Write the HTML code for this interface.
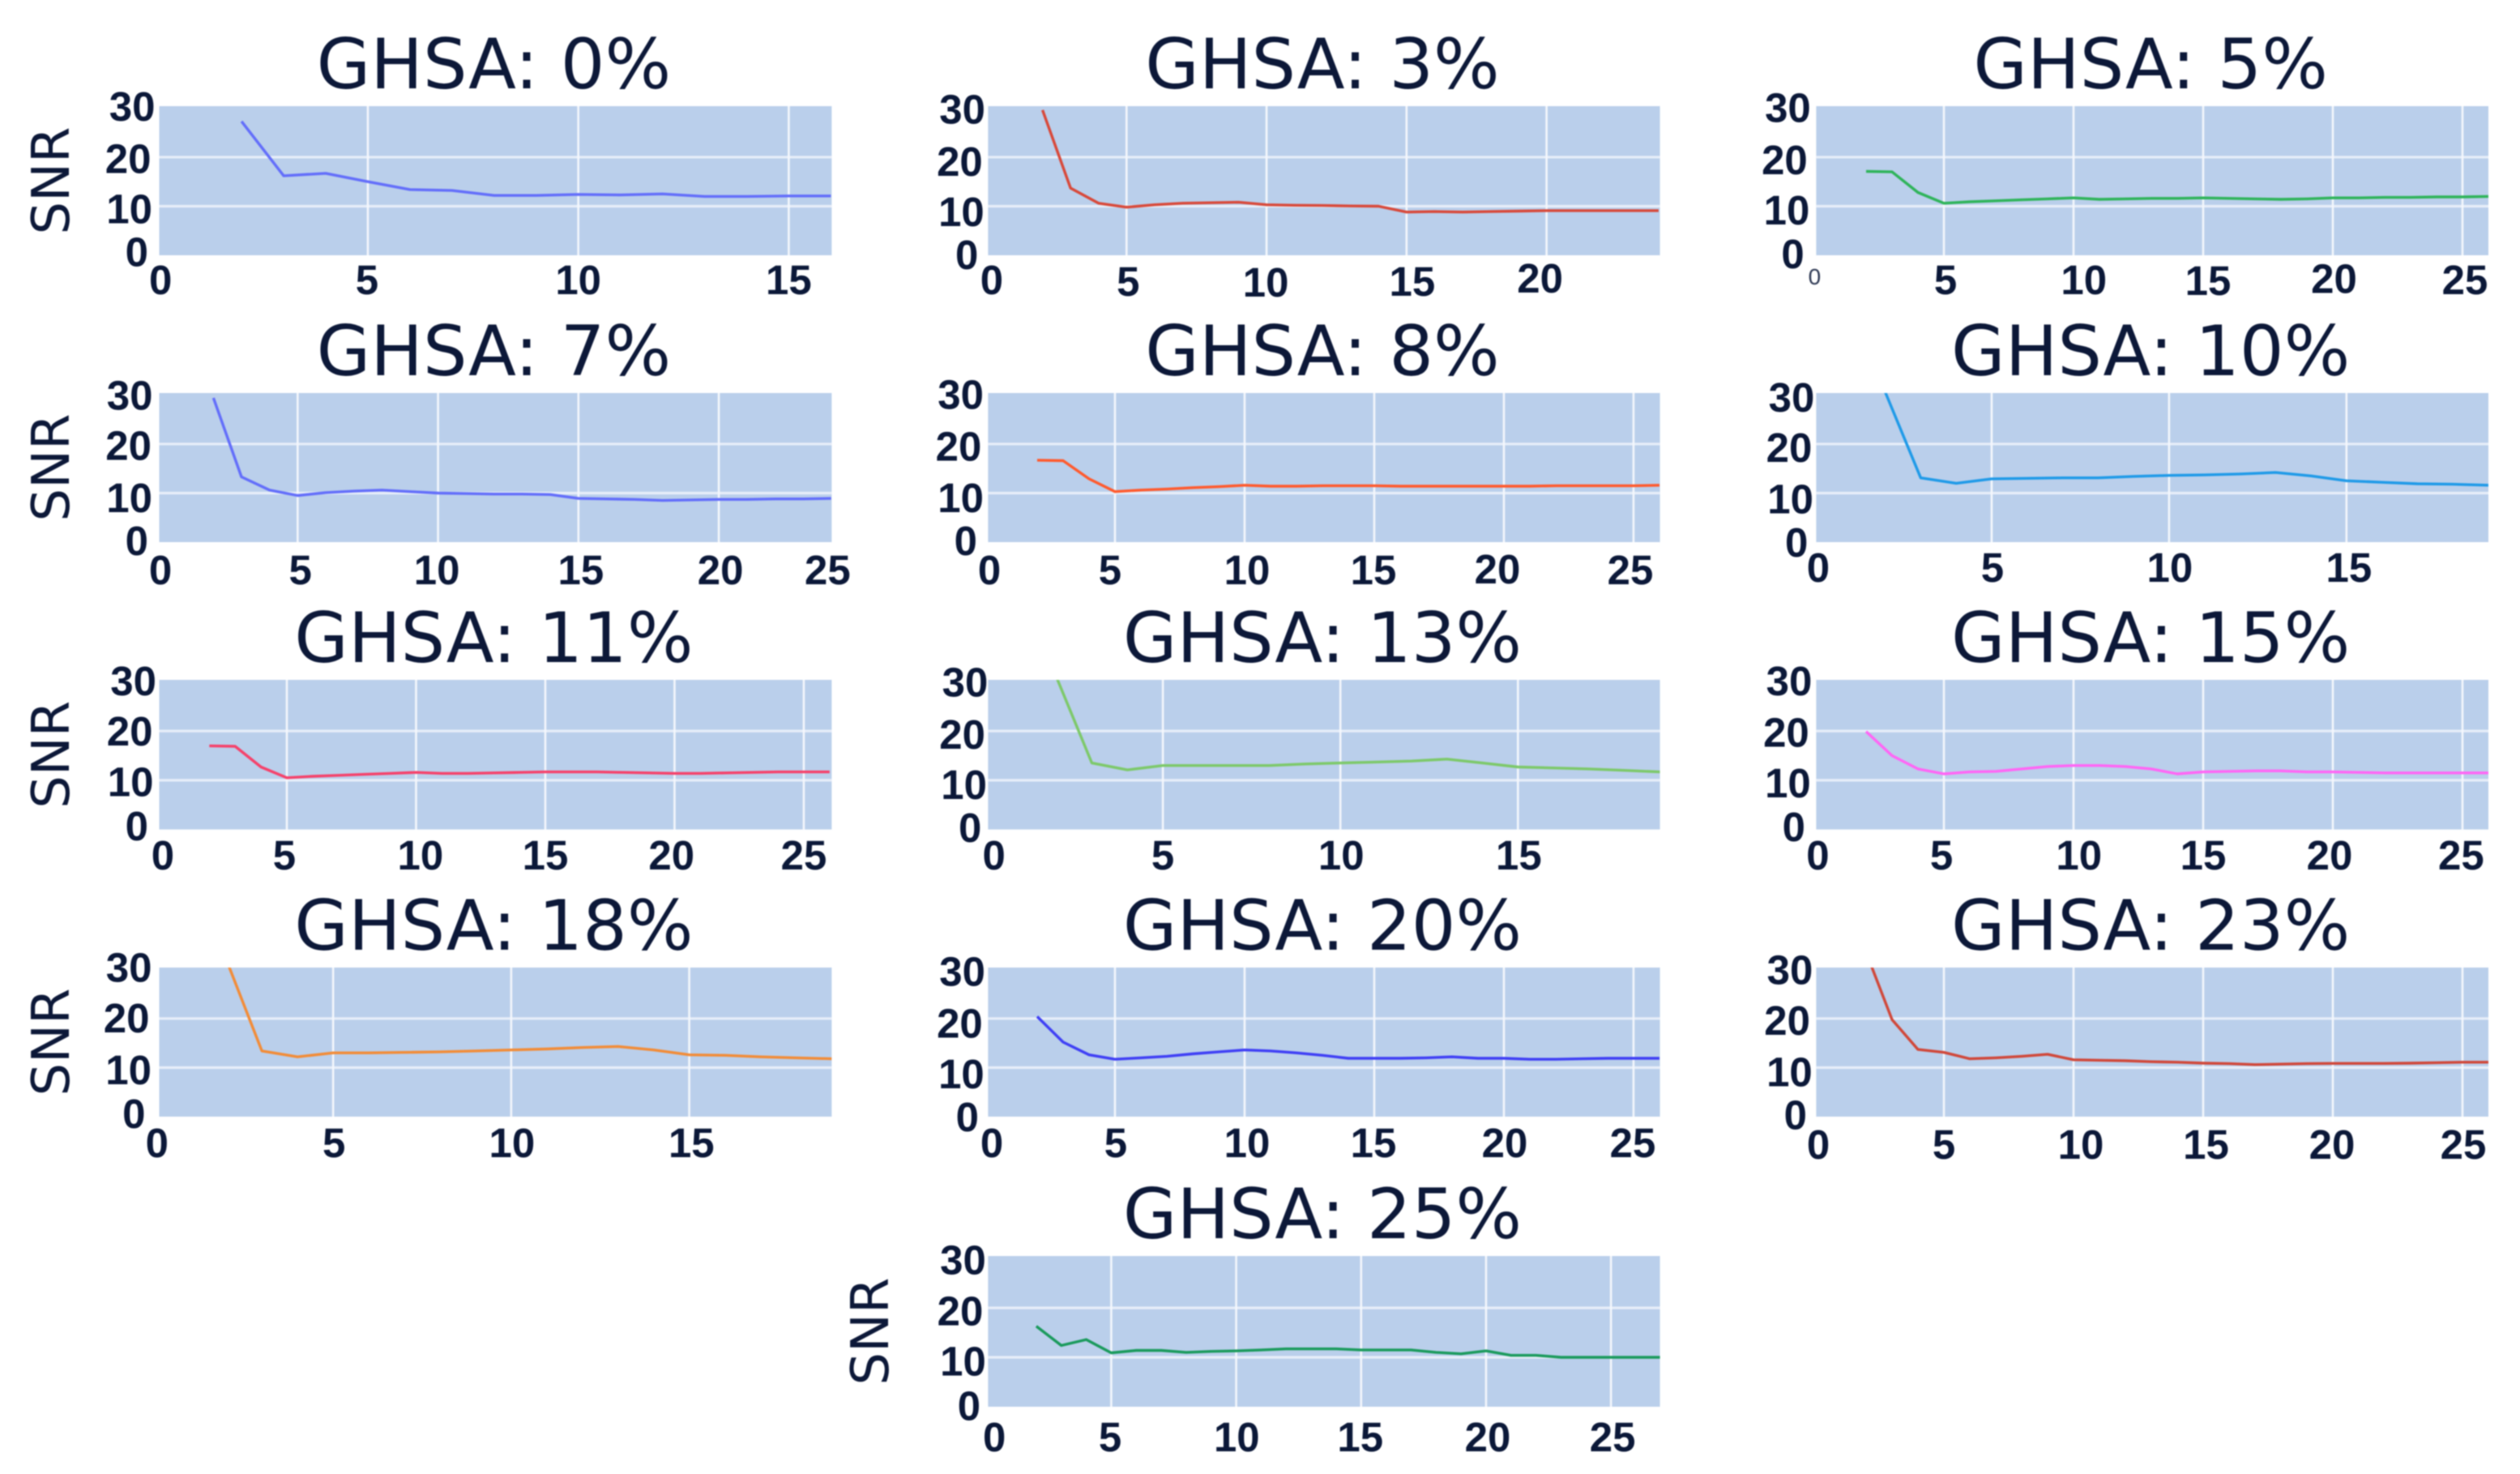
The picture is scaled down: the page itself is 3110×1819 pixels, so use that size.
<!DOCTYPE html>
<html lang="en">
<head>
<meta charset="utf-8">
<title>SNR by GHSA</title>
<style>
  html, body { margin: 0; padding: 0; background: #ffffff; }
  body { width: 3110px; height: 1819px; overflow: hidden; }
  svg { display: block; filter: blur(0.9px); }
  .title { font-family: "DejaVu Sans", sans-serif; font-size: 86px; fill: #0c1838; text-anchor: middle; }
  .axis-title { font-family: "DejaVu Sans", sans-serif; font-size: 64px; fill: #0c1838; text-anchor: middle; }
  .tick { font-family: "Liberation Sans", sans-serif; font-weight: 700; font-size: 51px; fill: #0b1838; }
  .tick-thin { font-family: "Liberation Sans", sans-serif; font-weight: 400; font-size: 28px; fill: #2c3752; }
</style>
</head>
<body>
<svg id="figure" xmlns="http://www.w3.org/2000/svg" width="3110" height="1819" viewBox="0 0 3110 1819"></svg>
<script>
// ---- Data ----
const titles = ["GHSA: 0%", "GHSA: 3%", "GHSA: 5%", "GHSA: 7%", "GHSA: 8%", "GHSA: 10%", "GHSA: 11%", "GHSA: 13%", "GHSA: 15%", "GHSA: 18%", "GHSA: 20%", "GHSA: 23%", "GHSA: 25%"];
const xValues = [2, 3, 4, 5, 6, 7, 8, 9, 10, 11, 12, 13, 14, 15, 16, 17, 18, 19, 20, 21, 22, 23, 24, 25, 26, 27];
const yTickLabels = [0, 10, 20, 30];
const xTicksShort = [0, 5, 10, 15];
const xTicksMid = [0, 5, 10, 15, 20];
const xTicksLong = [0, 5, 10, 15, 20, 25];

const snr0 = [27.3, 16.2, 16.7, 15, 13.4, 13.2, 12.2, 12.2, 12.4, 12.3, 12.5, 12, 12, 12.1, 12.1];
const snr3 = [29.6, 13.7, 10.6, 9.8, 10.3, 10.6, 10.7, 10.8, 10.3, 10.2, 10.15, 10.05, 10, 8.8, 8.9, 8.8, 8.9, 9, 9.1, 9.1, 9.1, 9.1, 9.1];
const snr5 = [17.1, 17, 12.8, 10.6, 10.9, 11.1, 11.3, 11.5, 11.7, 11.4, 11.5, 11.6, 11.6, 11.7, 11.6, 11.5, 11.4, 11.5, 11.7, 11.7, 11.8, 11.8, 11.9, 11.9, 12];
const snr7 = [29.4, 13.3, 10.6, 9.5, 10.1, 10.4, 10.6, 10.3, 10, 9.9, 9.8, 9.8, 9.7, 8.9, 8.8, 8.7, 8.5, 8.6, 8.7, 8.7, 8.8, 8.8, 8.9];
const snr8 = [16.7, 16.6, 12.9, 10.3, 10.6, 10.8, 11.1, 11.3, 11.6, 11.4, 11.4, 11.5, 11.5, 11.5, 11.4, 11.4, 11.4, 11.4, 11.4, 11.4, 11.5, 11.5, 11.5, 11.5, 11.6];
const snr10 = [30.6, 13.1, 12, 12.9, 13, 13.1, 13.1, 13.4, 13.6, 13.7, 13.9, 14.2, 13.5, 12.5, 12.2, 11.9, 11.8, 11.6];
const snr11 = [17, 16.9, 12.7, 10.5, 10.8, 11, 11.2, 11.4, 11.6, 11.4, 11.4, 11.5, 11.6, 11.7, 11.7, 11.7, 11.6, 11.5, 11.4, 11.4, 11.5, 11.6, 11.7, 11.7, 11.7];
const snr13 = [31, 13.5, 12.1, 13, 13, 13, 13, 13.3, 13.5, 13.7, 13.9, 14.3, 13.5, 12.7, 12.5, 12.3, 12, 11.7];
const snr15 = [19.9, 15, 12.3, 11.3, 11.7, 11.8, 12.3, 12.8, 13, 13, 12.8, 12.3, 11.3, 11.7, 11.8, 11.9, 11.9, 11.7, 11.7, 11.6, 11.5, 11.5, 11.5, 11.5, 11.5];
const snr18 = [32, 13.4, 12.2, 13, 13, 13.1, 13.2, 13.4, 13.6, 13.8, 14.1, 14.3, 13.6, 12.6, 12.5, 12.2, 12, 11.8];
const snr20 = [20.4, 15.2, 12.6, 11.7, 12, 12.3, 12.8, 13.2, 13.6, 13.4, 13, 12.5, 11.9, 11.9, 11.9, 12, 12.2, 11.9, 11.9, 11.7, 11.7, 11.8, 11.9, 11.9, 11.9];
const snr23 = [33.5, 19.8, 13.7, 13.1, 11.8, 12, 12.3, 12.7, 11.6, 11.5, 11.4, 11.2, 11.1, 10.9, 10.8, 10.6, 10.7, 10.8, 10.85, 10.85, 10.85, 10.9, 11, 11.1, 11.1];
const snr25 = [16.3, 12.4, 13.6, 10.9, 11.4, 11.4, 11, 11.2, 11.3, 11.5, 11.7, 11.7, 11.7, 11.5, 11.5, 11.5, 11, 10.7, 11.3, 10.4, 10.4, 10, 10, 10, 10, 10];

const seriesList = [snr0, snr3, snr5, snr7, snr8, snr10, snr11, snr13, snr15, snr18, snr20, snr23, snr25];
const xTickSets = [xTicksShort, xTicksMid, xTicksLong, xTicksLong, xTicksLong, xTicksShort, xTicksLong, xTicksShort, xTicksLong, xTicksShort, xTicksLong, xTicksLong, xTicksLong];
const xDomainMin = [0.044, 0.055, 0.075, 0.07, 0.106, 0.055, 0.063, 0.077, 0.075, 0.116, 0.106, 0.075, 0.07];
const xDomainMax = [16.02, 24.05, 26, 24.02, 26.02, 19, 26.08, 19, 26, 19, 26.02, 26, 26.96];
const yDomainMax = [30.4, 30.4, 30.4, 30.4, 30.4, 30.4, 30.4, 30.4, 30.4, 30.4, 30.4, 30.4, 30.5];

// ---- Styling and layout (not data) ----
const lineColors = ["#636efa", "#d8493a", "#2fb45a", "#636efa", "#ff5a2d", "#1f9ae8", "#f5426b", "#7dc96a", "#ff66f5", "#f28c38", "#3f3ff5", "#d0483a", "#1a9a5c"];
const panelCol = [0, 1, 2, 0, 1, 2, 0, 1, 2, 0, 1, 2, 1];
const panelRow = [0, 0, 0, 1, 1, 1, 2, 2, 2, 3, 3, 3, 4];
const colLeft = [196.5, 1219.4, 2241.4];
const colRight = [1026.4, 2048.6, 3071];
const rowTop = [131, 485, 839, 1194, 1550];
const rowBottom = [315, 669, 1023.6, 1378, 1736];
const snrCenterX = [62, 62, 62, 62, 1073];
const hasSnrTitle = [1, 0, 0, 1, 0, 0, 1, 0, 0, 1, 0, 0, 1];

// The tick labels in the figure sit slightly off their ticks; these are those offsets in px.
const xLabelNudgeX = [
  [4, -1, 0, 0], [6.5, 2, -1, 7, -8], [0.4, 2, 12.7, 6, 1.5, 3],
  [4, 3.4, -1.5, 3, 2, -39], [5, -6, 3, -1, -8, -4], [5, 1, 1, 3],
  [6.5, -3, 5.4, 0, -3.7, 0], [10.7, 0, 1, 1], [4.4, -3, 6.7, 0, -4, -1.6],
  [2.4, 1, 1, 2.7], [8, 1, 3, -1, 1, -1], [5, 0, 9, 3.5, -1, 1],
  [10, -1.4, 0.7, -1, 2, 2]
];
const xLabelNudgeY = [
  [0, 0, 0, 0], [0, 2, 3, 2, -2], [-4, 0, 0, 1, -1.5, 0],
  [4, 4, 4, 4, 4, 4], [4, 4, 4, 4, 3, 4], [1, 1, 1, 1],
  [1.5, 1.5, 1.5, 1.5, 1.5, 1.5], [1.5, 1.5, 1.5, 1.5], [1.5, 1.5, 1.5, 1.5, 1.5, 1.5],
  [2, 2, 2, 2], [2, 2, 2, 2, 2, 2], [4, 4, 4, 4, 4, 4],
  [7, 7, 7, 7, 7, 7]
];
const yLabelNudgeX = [
  [-8.5, -3.5, -5, 0], [-7, 0.4, -1.6, 1.6], [-9.6, -3, -5.6, -1.6],
  [-8.5, -3.5, -4.5, -3], [-8.4, -0.4, -3, -0.4], [-5, 1.6, 0, 3],
  [-8.5, -2, -3, 1.5], [-3, 3.6, 1.6, 5], [-8.4, -1.6, -3.6, 0],
  [-12, -4.5, -7, -4], [-6.4, 0.4, -1.6, 1.6], [-6.4, 0.4, -2.4, 1],
  [-4.3, 2.5, -1, 2.5]
];
const yLabelNudgeY = [
  [-4.5, 3, 1.5, -2.5], [-1, 6.5, 5, 1.3], [-2, 4.5, 3, -1],
  [-2, 5.5, 1.7, 0], [-2, 5.5, 2.6, -1], [0, 7, 4, 2.5],
  [-4.6, 1.7, 0, -1.5], [-2.6, 5, 3.6, 0], [-3.6, 3, 1.5, -1.5],
  [-4, 2.7, -1, -2.7], [0, 7.5, 5.8, 2], [-2.5, 5, 2, 0],
  [-1.4, 4.7, 3.5, 1.5]
];

// ---- Drawing ----
const SVG_NS = "http://www.w3.org/2000/svg";
const figure = document.getElementById("figure");

function make(tag, attrs, parent) {
  const node = document.createElementNS(SVG_NS, tag);
  for (const key in attrs) node.setAttribute(key, attrs[key]);
  parent.appendChild(node);
  return node;
}

seriesList.forEach(function (series, p) {
  const left = colLeft[panelCol[p]];
  const right = colRight[panelCol[p]];
  const top = rowTop[panelRow[p]];
  const bottom = rowBottom[panelRow[p]];
  const slug = titles[p].replace("GHSA: ", "").replace("%", "");

  const xScale = function (v) {
    return left + (v - xDomainMin[p]) * (right - left) / (xDomainMax[p] - xDomainMin[p]);
  };
  const yScale = function (v) {
    return bottom - v * (bottom - top) / yDomainMax[p];
  };

  const group = make("g", {}, figure);
  
  

  const title = make("text", { class: "title", x: (left + right) / 2 - 2, y: top - 22 }, group);
  title.textContent = titles[p];
  
  

  const plotArea = make("rect", { x: left, y: top, width: right - left, height: bottom - top, fill: "#bacfeb" }, group);
  
  

  yTickLabels.forEach(function (t, i) {
    if (t > 0 && t < yDomainMax[p] - 1) {
      const grid = make("line", { x1: left, x2: right, y1: yScale(t), y2: yScale(t), stroke: "#e7eef9", "stroke-width": 3.2 }, group);
      
      
    }
    const label = make("text", {
      class: "tick",
      "text-anchor": "end",
      x: left - 5 + yLabelNudgeX[p][i],
      y: yScale(t) + yLabelNudgeY[p][i] + 18
    }, group);
    label.textContent = t;
    
    
  });

  xTickSets[p].forEach(function (t, i) {
    if (t > 0 && t < xDomainMax[p]) {
      const grid = make("line", { x1: xScale(t), x2: xScale(t), y1: top, y2: bottom, stroke: "#f4f7fc", "stroke-width": 2.6 }, group);
      
      
    }
    const thin = (p === 2 && t === 0);
    const label = make("text", {
      class: thin ? "tick-thin" : "tick",
      "text-anchor": "middle",
      x: xScale(t) + xLabelNudgeX[p][i],
      y: bottom + 30 + xLabelNudgeY[p][i] + (thin ? 10 : 18)
    }, group);
    label.textContent = t;
    
    
  });

  const clip = make("clipPath", { id: "clip-" + p }, group);
  make("rect", { x: left, y: top, width: right - left, height: bottom - top }, clip);

  const points = series.map(function (v, i) {
    return xScale(xValues[i]).toFixed(1) + "," + yScale(v).toFixed(1);
  }).join(" ");
  const line = make("polyline", {
    points: points,
    fill: "none",
    stroke: lineColors[p],
    "stroke-width": 3.4,
    "stroke-linejoin": "round",
    "clip-path": "url(#clip-" + p + ")"
  }, group);
  
  

  if (hasSnrTitle[p]) {
    const cx = snrCenterX[panelRow[p]];
    const cy = (top + bottom) / 2;
    const snr = make("text", { class: "axis-title", x: cx, y: cy + 23, transform: "rotate(-90 " + cx + " " + cy + ")" }, group);
    snr.textContent = "SNR";
    
    
  }
});
</script>
</body>
</html>
